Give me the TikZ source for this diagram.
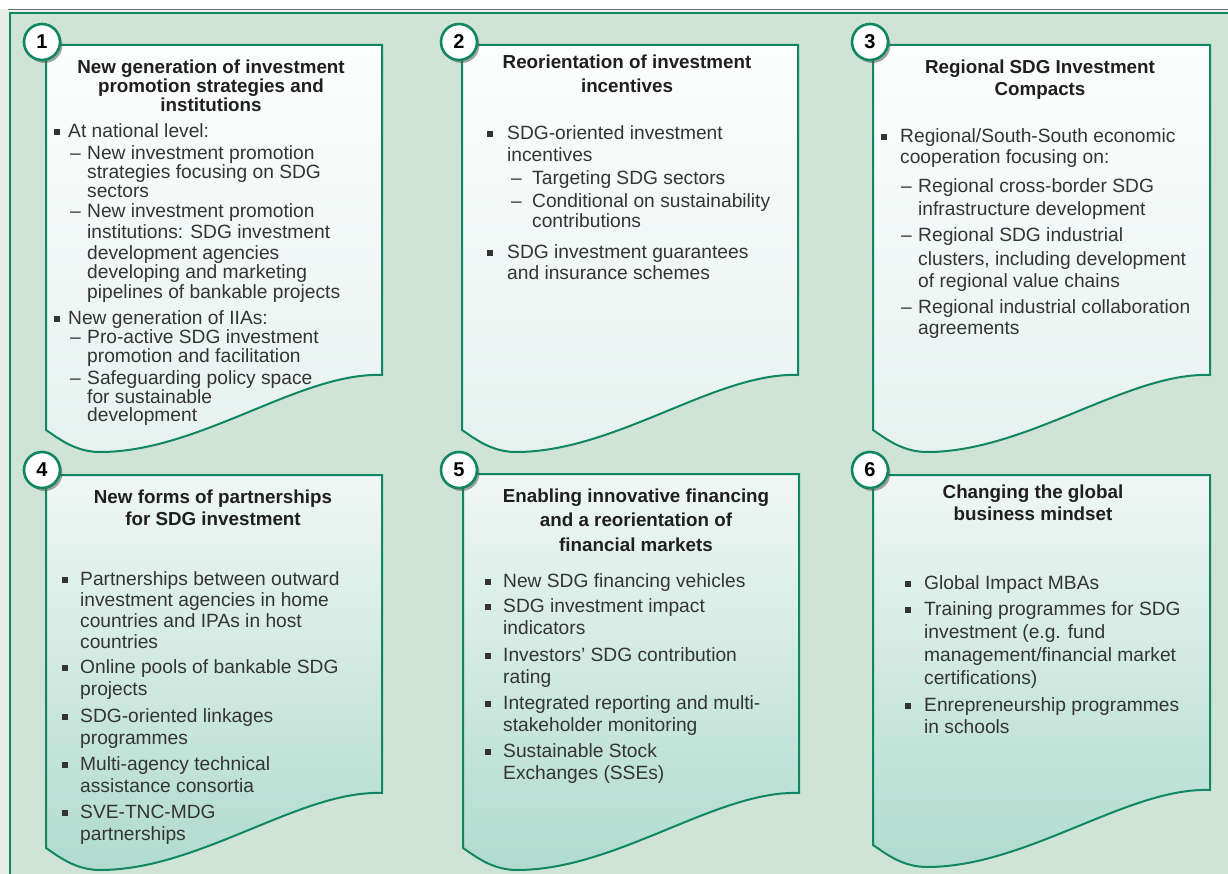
\documentclass[tikz,border=0pt]{standalone}
\usepackage{fontspec}
\setmainfont{Liberation Sans}
\usetikzlibrary{shadows}

\definecolor{sdggreen}{RGB}{16,134,98}
\definecolor{framebg}{RGB}{208,228,213}
\definecolor{outerbg}{RGB}{230,239,234}
\definecolor{bodygray}{RGB}{52,52,52}
\definecolor{paneltop}{RGB}{252,253,253}
\definecolor{panelbot}{RGB}{230,242,239}
\definecolor{tealtop}{RGB}{240,247,244}
\definecolor{tealbot}{RGB}{176,219,206}

\tikzset{
  panel/.style={draw=sdggreen, line width=2pt},
  head/.style={font=\fontsize{18.8}{20}\selectfont\bfseries, text=black!88, inner sep=0pt, anchor=base},
  body/.style={font=\fontsize{19.2}{20}\selectfont, text=bodygray, inner sep=0pt, anchor=base west},
  num/.style={circle, draw=sdggreen, line width=2.6pt, fill=white, minimum size=36pt, inner sep=0pt,
    font=\fontsize{20}{20}\selectfont\bfseries,
    drop shadow={shadow xshift=2.5pt, shadow yshift=-3pt, fill=black!65, opacity=0.55}},
}

% panel outline: left, top, right, y of right end of the wave
\newcommand{\docpath}[4]{(#1,#2) -- (#3,#2) -- (#3,#4)
  .. controls ({#3-82},{#4-3}) and ({#1+154},{#4+77}) .. ({#1+54},{#4+77})
  .. controls ({#1+29},{#4+77}) and ({#1+12},{#4+63}) .. (#1,{#4+55}) -- cycle}

% text lines: 1 bullet, 2 bullet cont., 3 dash, 4 dash cont.
\newcommand{\bodylines}[6]{%
  \foreach \k/\y/\t [count=\i] in {#6} {
    \ifcase\k\or
      \fill[bodygray] ({#2-2.6},{\y-1.6}) rectangle ++(5.2,5.2);
      \node[body] (#1-\i) at (#3,{\y+6.5}) {\t};
    \or
      \node[body] (#1-\i) at (#3,{\y+6.5}) {\t};
    \or
      \node[body] at (#4,{\y+6.5}) {–};
      \node[body] (#1-\i) at (#5,{\y+6.5}) {\t};
    \or
      \node[body] (#1-\i) at (#5,{\y+6.5}) {\t};
    \fi
  }}

\begin{document}
\begin{tikzpicture}[x=1pt,y=-1pt]
\useasboundingbox (0,0) rectangle (1228,874);

% frame
\fill[outerbg] (0,0) rectangle (1228,874);
\fill[white!96!framebg] (0,0) rectangle (1228,9);
\fill[framebg] (10,13) rectangle (1228,874);
\draw[black!55, line width=1pt] (8,10) -- (1228,10);
\draw[sdggreen, line width=2pt] (10,874) -- (10,13) -- (1228,13);

% panels
\path[panel, top color=paneltop, bottom color=panelbot] \docpath{46}{45}{382}{375};
\path[panel, top color=paneltop, bottom color=panelbot] \docpath{462}{45}{798}{375};
\path[panel, top color=paneltop, bottom color=panelbot] \docpath{873}{45}{1210}{375};
\path[panel, top color=tealtop, bottom color=tealbot] \docpath{46}{475}{382}{793};
\path[panel, top color=tealtop, bottom color=tealbot] \docpath{463}{474}{799}{793};
\path[panel, top color=tealtop, bottom color=tealbot] \docpath{873}{475}{1210}{790};

% numbers
\node[num] (n1) at (42,42) {1};
\node[num] (n2) at (459,42) {2};
\node[num] (n3) at (870,42) {3};
\node[num] (n4) at (42,470) {4};
\node[num] (n5) at (459,470) {5};
\node[num] (n6) at (870,470) {6};

% panel 1
\foreach \y/\t [count=\i] in {67/New generation of investment, 86/promotion strategies and, 105/institutions}
  \node[head] (h1-\i) at (211,{\y+6.7}) {\t};
\bodylines{b1}{57}{68}{70}{87}{1/131/At national level:, 3/153/New investment promotion,
  4/172/strategies focusing on SDG, 4/191/sectors, 3/211/New investment promotion,
  4/232/institutions: SDG investment, 4/253/development agencies, 4/272/developing and marketing,
  4/292/pipelines of bankable projects, 1/318/New generation of IIAs:, 3/337/Pro-active SDG investment,
  4/356/promotion and facilitation, 3/378/Safeguarding policy space, 4/397/for sustainable,
  4/415/development}

% panel 2
\foreach \y/\t [count=\i] in {62/Reorientation of investment, 86/incentives}
  \node[head] (h2-\i) at (627,{\y+6.7}) {\t};
\bodylines{b2}{490}{507}{511}{532}{1/133/SDG-oriented investment, 2/155/incentives,
  3/178/Targeting SDG sectors, 3/201/Conditional on sustainability, 4/221/contributions,
  1/252/SDG investment guarantees, 2/273/and insurance schemes}

% panel 3
\foreach \y/\t [count=\i] in {67/Regional SDG Investment, 89/Compacts}
  \node[head] (h3-\i) at (1040,{\y+6.7}) {\t};
\bodylines{b3}{884}{900}{901}{918}{1/136/{Regional/South-South economic}, 2/157/cooperation focusing on:,
  3/186/Regional cross-border SDG, 4/209/infrastructure development, 3/235/Regional SDG industrial,
  4/259/{clusters, including development}, 4/281/of regional value chains,
  3/307/Regional industrial collaboration, 4/328/agreements}

% panel 4
\foreach \y/\t [count=\i] in {497/New forms of partnerships, 519/for SDG investment}
  \node[head] (h4-\i) at (213,{\y+6.7}) {\t};
\bodylines{b4}{65}{80}{0}{0}{1/579/Partnerships between outward, 2/600/investment agencies in home,
  2/621/countries and IPAs in host, 2/642/countries, 1/667/Online pools of bankable SDG,
  2/689/projects, 1/716/SDG-oriented linkages, 2/738/programmes, 1/764/Multi-agency technical,
  2/786/assistance consortia, 1/812/SVE-TNC-MDG, 2/834/partnerships}

% panel 5
\foreach \y/\t [count=\i] in {496/Enabling innovative financing, 520/and a reorientation of, 545/financial markets}
  \node[head] (h5-\i) at (636,{\y+6.7}) {\t};
\bodylines{b5}{488}{503}{0}{0}{1/581/New SDG financing vehicles, 1/606/SDG investment impact,
  2/628/indicators, 1/655/Investors’ SDG contribution, 2/677/rating,
  1/703/Integrated reporting and multi-, 2/725/stakeholder monitoring,
  1/751/Sustainable Stock, 2/773/Exchanges (SSEs)}

% panel 6
\foreach \y/\t [count=\i] in {492/Changing the global, 514/business mindset}
  \node[head] (h6-\i) at (1033,{\y+6.7}) {\t};
\bodylines{b6}{908}{924}{0}{0}{1/583/Global Impact MBAs, 1/609/Training programmes for SDG,
  2/632/investment (e.g. fund, 2/655/{management/financial market}, 2/678/certifications),
  1/705/Enrepreneurship programmes, 2/727/in schools}

\end{tikzpicture}
\end{document}
